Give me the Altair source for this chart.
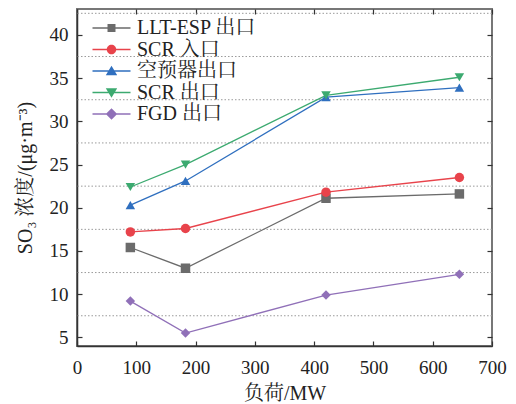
import altair as alt
import pandas as pd

# ---- data ----
loads = [90, 183, 420, 645]
series = ["LLT-ESP 出口", "SCR 入口", "空预器出口", "SCR 出口", "FGD 出口"]
llt_esp = [15.4, 13.0, 21.1, 21.6]
scr_in = [17.2, 17.6, 21.8, 23.5]
aph_out = [20.3, 23.1, 32.8, 33.9]
scr_out = [22.4, 25.0, 33.0, 35.1]
fgd_out = [9.2, 5.5, 9.9, 12.3]
y_ticks = [5, 10, 15, 20, 25, 30, 35, 40]
x_ticks = [0, 100, 200, 300, 400, 500, 600, 700]
grid_vals = [7.5, 12.5, 17.5, 22.5, 27.5, 32.5, 37.5, 42.5]

colors = ["#6b6b6b", "#e8434b", "#2f6fbf", "#3caa70", "#9070b8"]
shapes = ["square", "circle", "triangle-up", "triangle-down", "diamond"]
LINE = "M-2,-0.068H2V0.068H-2Z"
legend_paths = [
    LINE + "M-0.42,-0.42H0.42V0.42H-0.42Z",
    LINE + "M0.5,0A0.5,0.5 0 1,1 -0.5,0A0.5,0.5 0 1,1 0.5,0Z",
    LINE + "M0,-0.56L0.6,0.46H-0.6Z",
    LINE + "M0,0.56L-0.6,-0.46H0.6Z",
    LINE + "M0,-0.6L0.6,0L0,0.6L-0.6,0Z",
]

vals = [llt_esp, scr_in, aph_out, scr_out, fgd_out]
rows = []
for s, v in zip(series, vals):
    for x, y in zip(loads, v):
        rows.append({"load": x, "value": y, "series": s})
df = pd.DataFrame(rows)
grid_df = pd.DataFrame({"g": grid_vals})

FONT = "Times New Roman, Liberation Serif, Noto Serif CJK SC, Noto Sans CJK SC"
xs = alt.Scale(domain=[0, 700], nice=False)
ys = alt.Scale(domain=[4, 43], nice=False, zero=False)
cscale = alt.Scale(domain=series, range=colors)

def ax_ticks(orient, labels, title=None, values=None, **kw):
    return alt.Axis(orient=orient, values=values, offset=-5, domain=False,
                    ticks=True, tickSize=5, tickColor="#333", tickWidth=1.2,
                    labels=labels, grid=False, title=title, **kw)

grid = alt.Chart(grid_df).mark_rule(color="#9a9a9a", strokeDash=[1.5, 2], strokeWidth=1).encode(
    y=alt.Y("g:Q", scale=ys, axis=alt.Axis(orient="left", domain=True, domainColor="#333",
                                         domainWidth=1.5, ticks=False, labels=False, grid=False,
                                         title=None))
)

lines = alt.Chart(df).mark_line(strokeWidth=1.3).encode(
    x=alt.X("load:Q", scale=xs,
            axis=ax_ticks("bottom", True, "负荷/MW", x_ticks, labelPadding=12,
                          titlePadding=6, labelFlush=False)),
    y=alt.Y("value:Q", scale=ys,
            axis=ax_ticks("left", True, "SO₃ 浓度/(μg·m⁻³)", y_ticks, labelPadding=9,
                          titlePadding=14)),
    color=alt.Color("series:N", scale=cscale, legend=None),
    detail="series:N",
)

points = alt.Chart(df).mark_point(filled=True, opacity=1, size=90).encode(
    x=alt.X("load:Q", scale=xs, axis=ax_ticks("top", False, None, x_ticks)),
    y=alt.Y("value:Q", scale=ys, axis=ax_ticks("right", False, None, y_ticks)),
    color=alt.Color("series:N", scale=cscale, legend=None),
    shape=alt.Shape("series:N", scale=alt.Scale(domain=series, range=shapes), legend=None),
)

leg = alt.Legend(orient="none", legendX=24.5, legendY=9, title=None,
                 symbolSize=361, symbolOpacity=1, symbolStrokeWidth=0,
                 labelFontSize=20, labelFont=FONT, labelColor="#222",
                 labelOffset=15.5, rowPadding=1.5, padding=0)

legend_layer = alt.Chart(df).mark_point(filled=True, opacity=0).encode(
    x=alt.X("load:Q", scale=xs, axis=alt.Axis(orient="bottom", domain=True, domainColor="#333",
                                            domainWidth=1.5, ticks=False, labels=False,
                                            grid=False, title=None)),
    y=alt.Y("value:Q", scale=ys, axis=None),
    color=alt.Color("series:N", scale=cscale, legend=leg),
    shape=alt.Shape("series:N", scale=alt.Scale(domain=series, range=legend_paths), legend=leg),
)

chart = alt.layer(grid, lines, points, legend_layer).resolve_scale(
    shape="independent", color="independent"
).resolve_legend(
    shape="independent", color="independent"
).resolve_axis(x="independent", y="independent").properties(
    width=415, height=337,
    background="white",
    autosize=alt.AutoSizeParams(type="none"),
    padding={"left": 77, "top": 9, "right": 24, "bottom": 58},
).configure_view(stroke="#777", strokeWidth=2).configure_axis(
    labelFont=FONT, titleFont=FONT, labelFontSize=19, titleFontSize=20,
    labelColor="#222", titleColor="#222", titleFontWeight="normal",
)

chart.save("out.html", embed_options={"renderer": "svg", "actions": False})
